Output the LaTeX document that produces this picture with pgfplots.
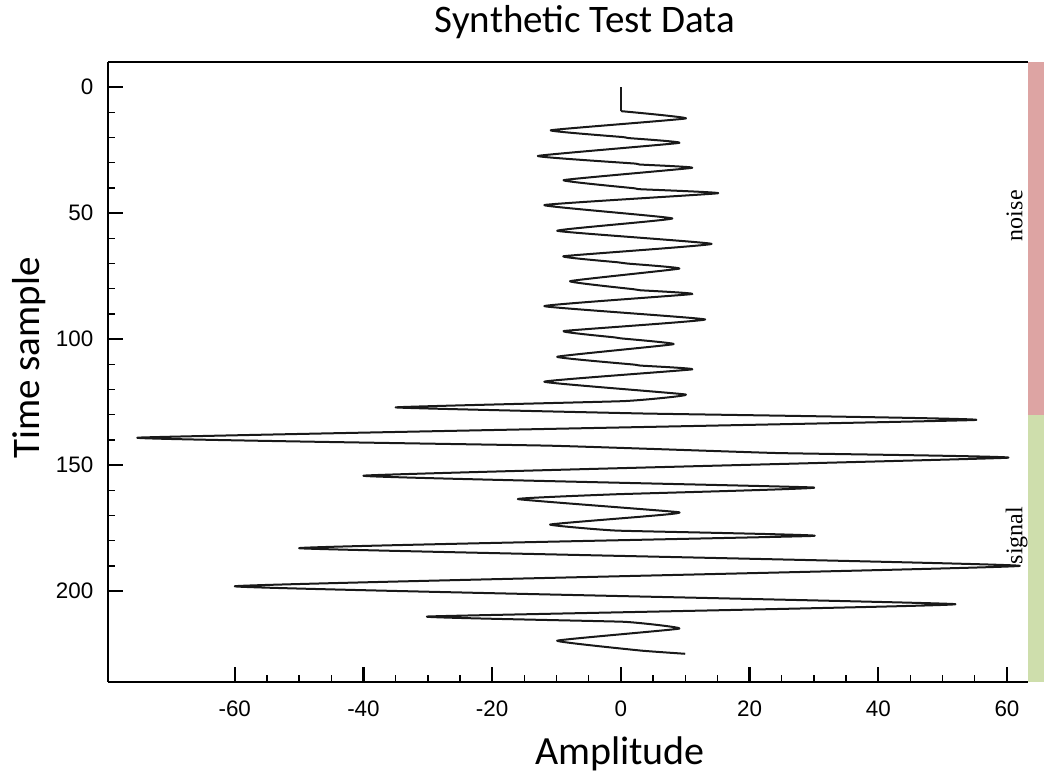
\documentclass[border=0pt]{standalone}
\usepackage{fontspec}
\setmainfont{Liberation Sans}
\newfontfamily\carlito{Carlito}
\newfontfamily\serifrm{Liberation Serif}
\usepackage{pgfplots}
\pgfplotsset{compat=1.18}
\definecolor{noisec}{RGB}{221,164,163}
\definecolor{signalc}{RGB}{206,222,172}
\begin{document}
\begin{tikzpicture}[x=0.5pt,y=0.5pt]
\useasboundingbox (0,0) rectangle (1044,776);
\begin{axis}[
  at={(54pt,47pt)}, anchor=south west,
  scale only axis, width=460pt, height=310pt,
  xmin=-79.7, xmax=63.27, ymin=-10, ymax=236.1,
  y dir=reverse,
  axis x line*=bottom, axis y line*=left,
  axis line style={-, line width=1.4pt},
  tick align=inside,
  xtick={-60,-40,-20,0,20,40,60},
  ytick={0,50,100,150,200},
  minor x tick num=3, minor y tick num=4,
  major tick length=7.5pt, minor tick length=3.5pt,
  major tick style={line width=1.2pt, black},
  minor tick style={line width=0.7pt, black},
  tick label style={font=\fontsize{11.2}{13}\selectfont},
  /pgf/number format/assume math mode=true,
  yticklabel style={xshift=-3.8pt},
  xticklabel style={yshift=-5.8pt},
  clip=false,
]
\addplot[draw=none, fill=noisec] coordinates {(63.27,-10) (65.9,-10) (65.9,130) (63.27,130)};
\addplot[draw=none, fill=signalc] coordinates {(63.27,130) (65.9,130) (65.9,236.1) (63.27,236.1)};
\addplot[black!90, line width=1pt] coordinates {(0,0) (0,9.5)};
\addplot[black!90, line width=1pt, line join=round, smooth, tension=0.2] coordinates {
(0,9.5) (10.1,12.4) (-10.9,17.1) (0.3,19.8) (1.2,20.2) (9.1,22.1)
(-12.9,27.3) (2.1,30.3) (2.9,30.7) (11.1,32.0) (-8.9,36.9) (2,40.1) (3,40.5)
(15.1,42.1) (-11.9,46.8) (8.0,52.1) (-9.9,57.0) (14.1,62.2) (-8.9,67.1)
(-0.5,69.5) (1,70) (9.1,72) (-7.9,77) (2,80.2) (3,80.6) (11.1,82.1)
(-11.9,86.9) (13.1,92.2) (-8.9,96.8) (-1,99.3) (0,99.7) (8.2,102) (-9.9,107)
(2,110.1) (3,110.5) (11.1,112) (-11.9,116.9) (10.1,122) (0.5,124.6)
(-35,127.1) (3,129.5) (55,132.1) (-75,139.1) (-11,142.3) (24,145.2) (60,147.1)
(-40,154.2) (30,158.9) (-1,161.6) (-16,163.5) (9,168.7) (3.5,170.4) (-11,173.6)
(-0.7,176) (30,178.1) (-50,183) (62,190) (-60,198.1) (52,205.2) (-30,210.1)
(0.5,212.2) (9.1,214.9) (-9.9,219.7) (3,223.6) (10,224.9)
};
\draw[line width=0.9pt] (axis cs:-79.7,-10) -- (axis cs:63.27,-10);
\node[rotate=90, anchor=base, font=\serifrm\fontsize{12}{14}\selectfont] at (axis cs:62.4,51) {noise};
\node[rotate=90, anchor=base, font=\serifrm\fontsize{12}{14}\selectfont] at (axis cs:62.4,178) {signal};
\end{axis}
\node[anchor=base, font=\carlito\fontsize{19.5}{22}\selectfont] at (585,743) {Synthetic Test Data};
\node[anchor=base, font=\carlito\fontsize{20}{22}\selectfont] at (620,11) {Amplitude};
\node[anchor=base, rotate=90, font=\carlito\fontsize{19.5}{22}\selectfont] at (40,418) {Time sample};
\end{tikzpicture}
\end{document}
